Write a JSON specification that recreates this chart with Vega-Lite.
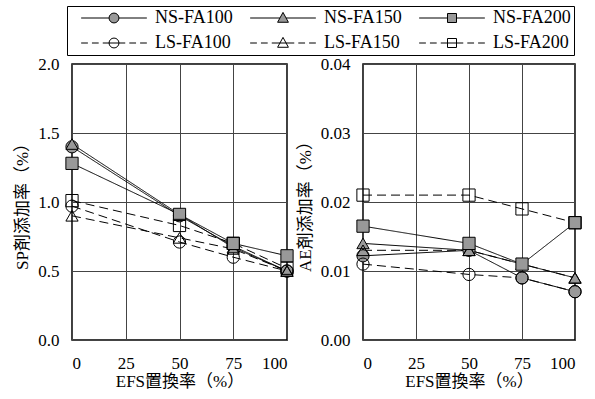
{
  "$schema": "https://vega.github.io/schema/vega-lite/v6.json",
  "background": "white",
  "padding": {"left": 13, "top": 5, "right": 5, "bottom": 5},
  "spacing": -13,
  "data": {"values": [
    {"panel": "SP", "series": "NS-FA100", "kind": "NS", "efs": 0, "value": 1.40},
    {"panel": "SP", "series": "NS-FA100", "kind": "NS", "efs": 50, "value": 0.90},
    {"panel": "SP", "series": "NS-FA100", "kind": "NS", "efs": 75, "value": 0.68},
    {"panel": "SP", "series": "NS-FA100", "kind": "NS", "efs": 100, "value": 0.50},
    {"panel": "SP", "series": "NS-FA150", "kind": "NS", "efs": 0, "value": 1.42},
    {"panel": "SP", "series": "NS-FA150", "kind": "NS", "efs": 50, "value": 0.91},
    {"panel": "SP", "series": "NS-FA150", "kind": "NS", "efs": 75, "value": 0.67},
    {"panel": "SP", "series": "NS-FA150", "kind": "NS", "efs": 100, "value": 0.50},
    {"panel": "SP", "series": "NS-FA200", "kind": "NS", "efs": 0, "value": 1.28},
    {"panel": "SP", "series": "NS-FA200", "kind": "NS", "efs": 50, "value": 0.91},
    {"panel": "SP", "series": "NS-FA200", "kind": "NS", "efs": 75, "value": 0.70},
    {"panel": "SP", "series": "NS-FA200", "kind": "NS", "efs": 100, "value": 0.61},
    {"panel": "SP", "series": "LS-FA100", "kind": "LS", "efs": 0, "value": 0.97},
    {"panel": "SP", "series": "LS-FA100", "kind": "LS", "efs": 50, "value": 0.71},
    {"panel": "SP", "series": "LS-FA100", "kind": "LS", "efs": 75, "value": 0.60},
    {"panel": "SP", "series": "LS-FA100", "kind": "LS", "efs": 100, "value": 0.50},
    {"panel": "SP", "series": "LS-FA150", "kind": "LS", "efs": 0, "value": 0.90},
    {"panel": "SP", "series": "LS-FA150", "kind": "LS", "efs": 50, "value": 0.74},
    {"panel": "SP", "series": "LS-FA150", "kind": "LS", "efs": 75, "value": 0.66},
    {"panel": "SP", "series": "LS-FA150", "kind": "LS", "efs": 100, "value": 0.50},
    {"panel": "SP", "series": "LS-FA200", "kind": "LS", "efs": 0, "value": 1.01},
    {"panel": "SP", "series": "LS-FA200", "kind": "LS", "efs": 50, "value": 0.83},
    {"panel": "SP", "series": "LS-FA200", "kind": "LS", "efs": 75, "value": 0.70},
    {"panel": "SP", "series": "LS-FA200", "kind": "LS", "efs": 100, "value": 0.52},
    {"panel": "AE", "series": "NS-FA100", "kind": "NS", "efs": 0, "value": 0.0122},
    {"panel": "AE", "series": "NS-FA100", "kind": "NS", "efs": 50, "value": 0.013},
    {"panel": "AE", "series": "NS-FA100", "kind": "NS", "efs": 75, "value": 0.009},
    {"panel": "AE", "series": "NS-FA100", "kind": "NS", "efs": 100, "value": 0.007},
    {"panel": "AE", "series": "NS-FA150", "kind": "NS", "efs": 0, "value": 0.014},
    {"panel": "AE", "series": "NS-FA150", "kind": "NS", "efs": 50, "value": 0.013},
    {"panel": "AE", "series": "NS-FA150", "kind": "NS", "efs": 75, "value": 0.011},
    {"panel": "AE", "series": "NS-FA150", "kind": "NS", "efs": 100, "value": 0.009},
    {"panel": "AE", "series": "NS-FA200", "kind": "NS", "efs": 0, "value": 0.0165},
    {"panel": "AE", "series": "NS-FA200", "kind": "NS", "efs": 50, "value": 0.014},
    {"panel": "AE", "series": "NS-FA200", "kind": "NS", "efs": 75, "value": 0.011},
    {"panel": "AE", "series": "NS-FA200", "kind": "NS", "efs": 100, "value": 0.017},
    {"panel": "AE", "series": "LS-FA100", "kind": "LS", "efs": 0, "value": 0.011},
    {"panel": "AE", "series": "LS-FA100", "kind": "LS", "efs": 50, "value": 0.0095},
    {"panel": "AE", "series": "LS-FA100", "kind": "LS", "efs": 75, "value": 0.009},
    {"panel": "AE", "series": "LS-FA100", "kind": "LS", "efs": 100, "value": 0.007},
    {"panel": "AE", "series": "LS-FA150", "kind": "LS", "efs": 0, "value": 0.013},
    {"panel": "AE", "series": "LS-FA150", "kind": "LS", "efs": 50, "value": 0.013},
    {"panel": "AE", "series": "LS-FA150", "kind": "LS", "efs": 75, "value": 0.011},
    {"panel": "AE", "series": "LS-FA150", "kind": "LS", "efs": 100, "value": 0.009},
    {"panel": "AE", "series": "LS-FA200", "kind": "LS", "efs": 0, "value": 0.021},
    {"panel": "AE", "series": "LS-FA200", "kind": "LS", "efs": 50, "value": 0.021},
    {"panel": "AE", "series": "LS-FA200", "kind": "LS", "efs": 75, "value": 0.019},
    {"panel": "AE", "series": "LS-FA200", "kind": "LS", "efs": 100, "value": 0.017}
  ]},
  "config": {
    "font": "Liberation Serif",
    "view": {"stroke": "black", "strokeWidth": 1.5},
    "axis": {
      "labelFont": "Liberation Serif",
      "labelFontSize": 17,
      "labelColor": "black",
      "titleFont": "Liberation Serif, Noto Sans CJK JP",
      "titleFontSize": 17,
      "titleFontWeight": "normal",
      "titleColor": "black",
      "ticks": false,
      "domain": false,
      "gridColor": "#444444",
      "gridOpacity": 1,
      "gridWidth": 1
    },
    "axisX": {"labelAngle": 0, "labelPadding": 15, "titlePadding": 2},
    "axisY": {"labelPadding": 13, "titlePadding": 6},
    "legend": {
      "labelFont": "Liberation Serif",
      "labelFontSize": 18,
      "labelColor": "black"
    }
  },
  "hconcat": [
    {
      "width": 215,
      "height": 276,
      "transform": [{"filter": "datum.panel == 'SP'"}],
      "encoding": {
        "x": {"field": "efs", "type": "quantitative", "scale": {"domain": [0, 100]}, "axis": {"values": [0, 25, 50, 75, 100], "title": "EFS置換率（%）"}},
        "y": {"field": "value", "type": "quantitative", "scale": {"domain": [0, 2]}, "axis": {"values": [0, 0.5, 1, 1.5, 2], "format": ".1f", "title": "SP剤添加率（%）"}}
      },
      "layer": [
        {
          "mark": {"type": "line", "color": "black", "strokeWidth": 1},
          "encoding": {
            "detail": {"field": "series"},
            "strokeDash": {"field": "kind", "type": "nominal", "scale": {"domain": ["NS", "LS"], "range": [[1, 0], [9, 5]]}, "legend": null}
          }
        },
        {
          "mark": {"type": "point", "opacity": 0, "stroke": "black", "strokeWidth": 1, "filled": true},
          "encoding": {
            "fill": {
              "field": "series", "type": "nominal",
              "scale": {"domain": ["NS-FA100", "NS-FA150", "NS-FA200", "LS-FA100", "LS-FA150", "LS-FA200"], "range": ["#999999", "#999999", "#999999", "transparent", "transparent", "transparent"]},
              "legend": {
                "title": null, "orient": "none", "legendX": -5, "legendY": -58,
                "direction": "horizontal", "columns": 3,
                "strokeColor": "black", "fillColor": "white",
                "padding": 3, "rowPadding": 7, "columnPadding": 6,
                "symbolSize": 81, "symbolOffset": 35, "labelOffset": 32, "symbolOpacity": 1,
                "symbolStrokeColor": "black", "symbolStrokeWidth": 1
              }
            },
            "stroke": {
              "field": "series", "type": "nominal",
              "scale": {"domain": ["NS-FA100", "NS-FA150", "NS-FA200", "LS-FA100", "LS-FA150", "LS-FA200"], "range": ["black", "black", "black", "black", "black", "black"]},
              "legend": {
                "title": null, "orient": "none", "legendX": -5, "legendY": -58,
                "direction": "horizontal", "columns": 3,
                "strokeColor": "black", "fillColor": "white",
                "padding": 3, "rowPadding": 7, "columnPadding": 6,
                "symbolSize": 81, "symbolOffset": 35, "labelOffset": 32, "symbolOpacity": 1,
                "symbolStrokeColor": "black", "symbolStrokeWidth": 1
              }
            },
            "shape": {
              "field": "series", "type": "nominal",
              "scale": {"domain": ["NS-FA100", "NS-FA150", "NS-FA200", "LS-FA100", "LS-FA150", "LS-FA200"], "range": [
                "M-9.2,0M-7.3,0H-1.1M1.1,0H7.3M1.1,0A1.1,1.1,0,1,1,-1.1,0A1.1,1.1,0,1,1,1.1,0Z",
                "M-9.2,0M-7.3,0H-0.68M0.68,0H7.3M0,-1.25L1.2,0.95L-1.2,0.95Z",
                "M-9.2,0M-7.3,0H-1M1,0H7.3M-1,-1H1V1H-1Z",
                "M-9.2,0M-7.3,0H-5.8M-4.9,0H-3.4M-2.5,0H2.5M3.4,0H4.9M5.8,0H7.3M1.1,0A1.1,1.1,0,1,1,-1.1,0A1.1,1.1,0,1,1,1.1,0Z",
                "M-9.2,0M-7.3,0H-5.8M-4.9,0H-3.4M-2.5,0H2.5M3.4,0H4.9M5.8,0H7.3M0,-1.25L1.2,0.95L-1.2,0.95Z",
                "M-9.2,0M-7.3,0H-5.8M-4.9,0H-3.4M-2.5,0H2.5M3.4,0H4.9M5.8,0H7.3M-1,-1H1V1H-1Z"
              ]},
              "legend": {
                "title": null, "orient": "none", "legendX": -5, "legendY": -58,
                "direction": "horizontal", "columns": 3,
                "strokeColor": "black", "fillColor": "white",
                "padding": 3, "rowPadding": 7, "columnPadding": 6,
                "symbolSize": 81, "symbolOffset": 35, "labelOffset": 32, "symbolOpacity": 1,
                "symbolStrokeColor": "black", "symbolStrokeWidth": 1
              }
            }
          }
        },
        {
          "transform": [{"filter": "indexof(datum.series, 'FA100') >= 0"}],
          "mark": {"type": "point", "shape": "circle", "filled": true, "stroke": "black", "strokeWidth": 1, "size": 150, "opacity": 1},
          "encoding": {"color": {"field": "kind", "type": "nominal", "scale": {"domain": ["NS", "LS"], "range": ["#999999", "transparent"]}, "legend": null}}
        },
        {
          "transform": [{"filter": "indexof(datum.series, 'FA150') >= 0"}],
          "mark": {"type": "point", "shape": "triangle-up", "filled": true, "stroke": "black", "strokeWidth": 1, "size": 150, "opacity": 1},
          "encoding": {"color": {"field": "kind", "type": "nominal", "legend": null}}
        },
        {
          "transform": [{"filter": "indexof(datum.series, 'FA200') >= 0"}],
          "mark": {"type": "point", "shape": "square", "filled": true, "stroke": "black", "strokeWidth": 1, "size": 150, "opacity": 1},
          "encoding": {"color": {"field": "kind", "type": "nominal", "legend": null}}
        }
      ]
    },
    {
      "width": 212,
      "height": 276,
      "transform": [{"filter": "datum.panel == 'AE'"}],
      "encoding": {
        "x": {"field": "efs", "type": "quantitative", "scale": {"domain": [0, 100]}, "axis": {"values": [0, 25, 50, 75, 100], "title": "EFS置換率（%）"}},
        "y": {"field": "value", "type": "quantitative", "scale": {"domain": [0, 0.04]}, "axis": {"values": [0, 0.01, 0.02, 0.03, 0.04], "format": ".2f", "title": "AE剤添加率（%）"}}
      },
      "layer": [
        {
          "mark": {"type": "line", "color": "black", "strokeWidth": 1},
          "encoding": {
            "detail": {"field": "series"},
            "strokeDash": {"field": "kind", "type": "nominal", "legend": null}
          }
        },
        {
          "transform": [{"filter": "indexof(datum.series, 'FA100') >= 0"}],
          "mark": {"type": "point", "shape": "circle", "filled": true, "stroke": "black", "strokeWidth": 1, "size": 150, "opacity": 1},
          "encoding": {"color": {"field": "kind", "type": "nominal", "legend": null}}
        },
        {
          "transform": [{"filter": "indexof(datum.series, 'FA150') >= 0"}],
          "mark": {"type": "point", "shape": "triangle-up", "filled": true, "stroke": "black", "strokeWidth": 1, "size": 150, "opacity": 1},
          "encoding": {"color": {"field": "kind", "type": "nominal", "legend": null}}
        },
        {
          "transform": [{"filter": "indexof(datum.series, 'FA200') >= 0"}],
          "mark": {"type": "point", "shape": "square", "filled": true, "stroke": "black", "strokeWidth": 1, "size": 150, "opacity": 1},
          "encoding": {"color": {"field": "kind", "type": "nominal", "legend": null}}
        }
      ]
    }
  ]
}
